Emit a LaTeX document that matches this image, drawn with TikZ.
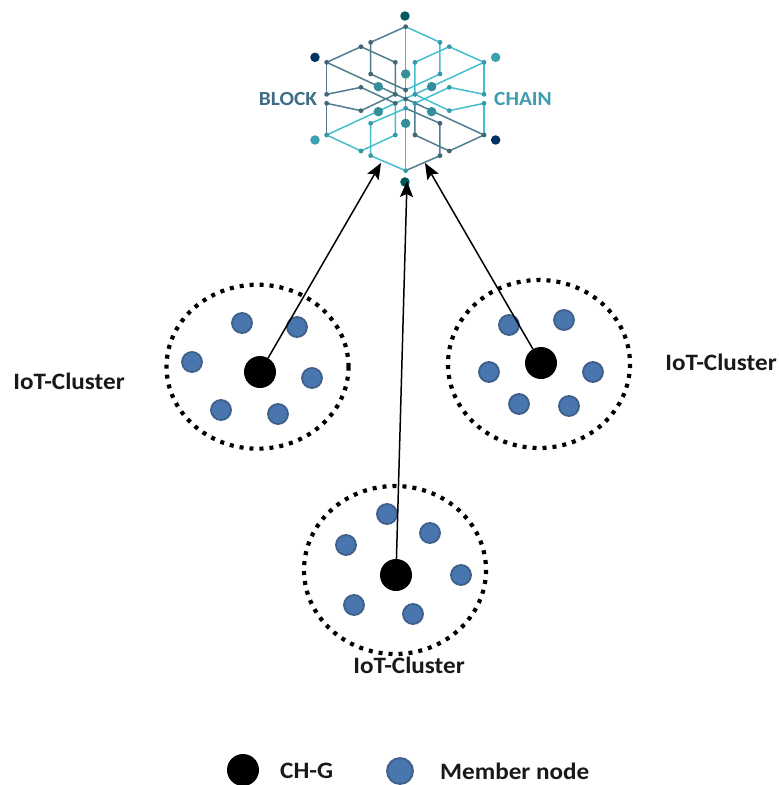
\documentclass[tikz,border=0pt]{standalone}
\usepackage{fontspec}
\setmainfont[FakeStretch=1.07]{Carlito}
\usetikzlibrary{arrows.meta}
\definecolor{slate}{HTML}{4F7F8E}
\definecolor{teal1}{HTML}{45BFCE}
\definecolor{blockc}{HTML}{3F6F88}
\definecolor{chainc}{HTML}{3F9DB0}
\definecolor{memberfill}{HTML}{4A76B0}
\definecolor{memberedge}{HTML}{3E6088}
\tikzset{
  x=1pt,y=-1pt,
  ring/.style={draw=black,line width=4.2pt,dash pattern=on 4pt off 6pt},
  chg/.style={circle,fill=black,inner sep=0pt,minimum size=32pt},
  member/.style={circle,fill=memberfill,draw=memberedge,line width=1.8pt,inner sep=0pt,minimum size=20pt},
  link/.style={draw=black,line width=1.5pt,-{Stealth[length=16pt,width=13pt,inset=3pt]}},
  clab/.style={font=\fontsize{23.5}{25}\selectfont\bfseries,text=black!90,inner sep=0pt},
  dk/.style={draw=slate,line width=1.5pt},
  lt/.style={draw=teal1,line width=1.5pt},
  lg/.style={circle,inner sep=0pt,minimum size=9.5pt},
  sm/.style={circle,inner sep=0pt,minimum size=4.8pt}
}
\begin{document}
\begin{tikzpicture}
\useasboundingbox (0,0) rectangle (779,785);
\fill[white] (0,0) rectangle (779,785);
% logo, drawn in a 3x frame
\begin{scope}[shift={(240,0)},x=.3333pt,y=-.3333pt]
\draw[lt] (497,80)--(497,512);
\draw[dk] (260,187)--(732,405);
\draw[lt] (732,187)--(260,405);
\draw[dk] (260,187)--(260,285) (260,310)--(260,405);
\draw[lt] (732,187)--(732,285) (732,310)--(732,405);
\draw[dk] (497,80)--(392,127)--(392,222)--(497,270);
\draw[dk] (363,140)--(260,187);
\draw[dk] (363,140)--(466,187)--(466,290);
\draw[lt] (497,80)--(600,127)--(600,222)--(497,270);
\draw[lt] (628,140)--(525,187)--(525,290) (628,140)--(732,187);
\draw[lt] (392,467)--(392,370)--(497,325) (497,512)--(392,467);
\draw[lt] (363,453)--(466,405)--(466,305) (363,453)--(260,405);
\draw[dk] (600,467)--(600,370)--(497,325) (600,467)--(497,512);
\draw[dk] (628,453)--(525,405)--(525,305) (628,453)--(732,405);
\draw[dk] (260,283)--(363,262)--(466,310) (260,310)--(363,332)--(466,283);
\draw[lt] (732,283)--(628,262)--(525,310) (732,310)--(628,332)--(525,283);
\foreach \p in {(260,187),(363,140),(392,127),(392,222),(466,187),(497,80),(260,283),(260,310),(363,262),(363,332),(466,283),(466,310),(497,270),(497,297),(732,405),(628,453),(600,370),(600,467),(525,405)}
  \node[sm,fill=slate!80!black] at \p {};
\foreach \p in {(732,187),(628,140),(600,127),(600,222),(525,187),(525,283),(525,310),(628,262),(628,332),(732,283),(732,310),(260,405),(363,453),(392,467),(392,370),(466,405),(497,325),(497,512)}
  \node[sm,fill=teal1!80!black] at \p {};
\foreach \p in {(497,222),(497,370),(415,260),(575,260),(415,335),(575,335)}
  \node[lg,fill=teal1!75!black] at \p {};
\node[lg,fill=teal!70!black] at (495,48) {};
\node[lg,fill=teal!70!black] at (495,546) {};
\node[lg,fill=black!70!blue!60!teal] at (225,172) {};
\node[lg,fill=black!70!blue!60!teal] at (767,420) {};
\node[lg,fill=teal1!85!black] at (767,172) {};
\node[lg,fill=teal1!85!black] at (225,420) {};
\end{scope}
\node[font=\fontsize{20}{22}\selectfont\bfseries,text=blockc,inner sep=0pt] (blk) at (288,99) {BLOCK};
\node[font=\fontsize{20}{22}\selectfont\bfseries,text=chainc,inner sep=0pt] (chn) at (523,99) {CHAIN};
\coordinate (logoL) at (381,163);
\coordinate (logoB) at (407,181);
\coordinate (logoR) at (425,163);
% clusters
\draw[ring] (257.5,366.7) ellipse [x radius=91,y radius=82];
\draw[ring] (539,364) ellipse [x radius=91,y radius=84];
\draw[ring] (395,570) ellipse [x radius=91,y radius=84];
\node[chg] (g1) at (260,372) {};
\node[chg] (g2) at (541,363) {};
\node[chg] (g3) at (396,575) {};
\foreach \n/\p in {a1/{(242,323)},a2/{(297,327)},a3/{(192,362)},a4/{(312,378)},a5/{(221,410)},a6/{(278,414)},
 b1/{(509,325)},b2/{(564,320)},b3/{(489,372)},b4/{(593,372)},b5/{(519,404)},b6/{(569,406)},
 c1/{(387,514)},c2/{(430,533)},c3/{(346,545)},c4/{(461,575)},c5/{(354,605)},c6/{(413,614)}}
  \node[member] (\n) at \p {};
\draw[link] (g1)--(logoL);
\draw[link] (g2)--(logoR);
\draw[link] (g3)--(logoB);
\node[clab] (l1) at (69,381) {IoT-Cluster};
\node[clab] (l2) at (721,362) {IoT-Cluster};
\node[clab] (l3) at (409,665) {IoT-Cluster};
% legend
\node[chg] (lg1) at (243,770) {};
\node[clab,anchor=west] (lg1t) at (280,771) {CH-G};
\node[member,minimum size=26pt] (lg2) at (400,771) {};
\node[clab,anchor=west] (lg2t) at (440,771) {Member node};
\end{tikzpicture}
\end{document}
